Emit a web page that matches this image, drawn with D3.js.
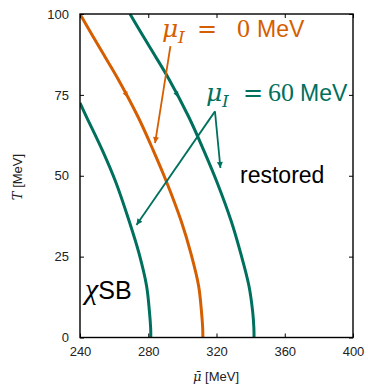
<!DOCTYPE html>
<html>
<head>
<meta charset="utf-8">
<script src="https://cdn.jsdelivr.net/npm/d3@7"></script>
<style>
    body { margin: 0; background: #fff; }
    .axis text { font-family: "Liberation Sans", Arial, sans-serif; font-size: 13px; fill: #222; }
    .axis path { display: none; }
    .axis line { stroke: #000; stroke-width: 1; }
    .serif { font-family: "DejaVu Serif", serif; }
    .times { font-family: "Liberation Serif", serif; }
    .sans { font-family: "Liberation Sans", Arial, sans-serif; }
</style>
</head>
<body>
<div id="chart"></div>
<script>
// ---- data ----
const xTicks = [240, 280, 320, 360, 400];
const yTicks = [0, 25, 50, 75, 100];

// [mu_bar, T] along each transition line, from T = 0 upward
const orange0 = [[312, 0], [311.9, 3], [311.2, 8], [309.5, 16], [305, 26], [299.3, 36], [290.8, 48],
    [282.8, 58], [274.2, 68], [262.2, 80], [251, 90], [240, 100]];
const tealLeft = [[281.5, 0], [281.4, 3], [280.7, 8], [279, 16], [274.6, 26], [268.8, 36], [261, 48],
    [253, 58], [244, 68], [240, 72.5]];
const tealRight = [[342, 0], [341.9, 3], [341.2, 8], [339, 16], [334.2, 26], [328.6, 36], [320.3, 48],
    [312.4, 58], [303.9, 68], [292, 80], [280.6, 90], [269.3, 100]];

// small direction marks on the lines (T value)
const markT = 75;

// annotation arrows [from, to] in data units
const orangeArrows = [[[293, 90.1], [284, 60.1]]];
const tealArrows = [[[319.1, 69.9], [322.3, 52.4]], [[319.1, 69.9], [273.1, 34.8]]];

const orange = "#d55e00";
const teal = "#00705e";

const width = 368, height = 385;
const margin = { top: 14, right: 15, bottom: 47.5, left: 80 };

const svg = d3.select("#chart").append("svg")
    .attr("width", width)
    .attr("height", height);

const x = d3.scaleLinear().domain([240, 400]).range([margin.left, width - margin.right]);
const y = d3.scaleLinear().domain([0, 100]).range([height - margin.bottom, margin.top]);

const defs = svg.append("defs");
[["arr-o", orange], ["arr-t", teal]].forEach(([id, c]) => {
    defs.append("marker")
        .attr("id", id)
        .attr("viewBox", "0 0 10 10")
        .attr("refX", 10).attr("refY", 5)
        .attr("markerWidth", 8).attr("markerHeight", 6)
        .attr("markerUnits", "userSpaceOnUse")
        .attr("orient", "auto")
        .append("path")
        .attr("d", "M0,0 L10,5 L0,10 Z")
        .attr("fill", c);
});

defs.append("clipPath").attr("id", "clip")
    .append("rect")
    .attr("x", x(240)).attr("y", y(100))
    .attr("width", x(400) - x(240)).attr("height", y(0) - y(100));

const line = d3.line()
    .x(d => x(d[0]))
    .y(d => y(d[1]))
    .curve(d3.curveCatmullRom.alpha(0.5));

const curves = [[orange0, orange, true], [tealLeft, teal, false], [tealRight, teal, true]];

const plot = svg.append("g").attr("clip-path", "url(#clip)");

plot.selectAll("path.curve")
    .data(curves)
    .enter()
    .append("path")
    .attr("class", "curve")
    .attr("d", d => line(d[0]))
    .attr("fill", "none")
    .attr("stroke", d => d[1])
    .attr("stroke-width", 3);

// little direction arrowheads sitting on the lines
curves.filter(d => d[2]).forEach(([pts, c]) => {
    const i = pts.findIndex(p => p[1] > markT);
    const a = pts[i - 1], b = pts[i];
    const t = (markT - a[1]) / (b[1] - a[1]);
    const mu = a[0] + t * (b[0] - a[0]);
    const ang = Math.atan2(y(a[1]) - y(b[1]), x(a[0]) - x(b[0])) * 180 / Math.PI;
    plot.append("path")
        .attr("d", "M3,0 L-3,-2.6 L-3,2.6 Z")
        .attr("fill", c)
        .attr("transform", "translate(" + x(mu) + "," + y(markT) + ") rotate(" + ang + ")");
});

// annotation arrows
function drawArrows(list, color, id) {
    svg.append("g").selectAll("line")
        .data(list)
        .enter()
        .append("line")
        .attr("x1", d => x(d[0][0])).attr("y1", d => y(d[0][1]))
        .attr("x2", d => x(d[1][0])).attr("y2", d => y(d[1][1]))
        .attr("stroke", color)
        .attr("stroke-width", 1.8)
        .attr("marker-end", "url(#" + id + ")");
}
drawArrows(orangeArrows, orange, "arr-o");
drawArrows(tealArrows, teal, "arr-t");

// axes, ticks inward on all four sides
svg.append("g").attr("class", "axis")
    .attr("transform", "translate(0," + y(0) + ")")
    .call(d3.axisBottom(x).tickValues(xTicks).tickSize(-4).tickPadding(9));
svg.append("g").attr("class", "axis")
    .attr("transform", "translate(0," + y(100) + ")")
    .call(d3.axisTop(x).tickValues(xTicks).tickSize(-4).tickFormat(""));
svg.append("g").attr("class", "axis")
    .attr("transform", "translate(" + x(240) + ",0)")
    .call(d3.axisLeft(y).tickValues(yTicks).tickSize(-4).tickPadding(11));
svg.append("g").attr("class", "axis")
    .attr("transform", "translate(" + x(400) + ",0)")
    .call(d3.axisRight(y).tickValues(yTicks).tickSize(-4).tickFormat(""));

svg.append("rect")
    .attr("x", x(240)).attr("y", y(100))
    .attr("width", x(400) - x(240)).attr("height", y(0) - y(100))
    .attr("fill", "none")
    .attr("stroke", "#000")
    .attr("stroke-width", 1.4);

// axis titles
const xt = svg.append("text")
    .attr("x", 216).attr("y", 381)
    .attr("text-anchor", "middle")
    .attr("fill", "#222")
    .style("font-size", "13px");
xt.append("tspan").attr("class", "serif").style("font-style", "italic").text("\u03BC\u0304");
xt.append("tspan").attr("class", "sans").text(" [MeV]");

const yt = svg.append("text")
    .attr("transform", "translate(22,177) rotate(-90)")
    .attr("text-anchor", "middle")
    .attr("fill", "#222")
    .style("font-size", "13px");
yt.append("tspan").attr("class", "serif").style("font-style", "italic").text("T");
yt.append("tspan").attr("class", "sans").text(" [MeV]");

// in-plot labels
function muLabel(color, xs, base, num) {
    const g = svg.append("g").attr("fill", color);
    g.append("text").attr("class", "serif").attr("x", xs[0]).attr("y", base)
        .style("font-style", "italic").style("font-size", "25px").text("\u03BC");
    g.append("text").attr("class", "serif").attr("x", xs[1]).attr("y", base + 6)
        .style("font-style", "italic").style("font-size", "17px").text("I");
    g.append("text").attr("class", "serif").attr("x", xs[2]).attr("y", base)
        .style("font-size", "24px").text("=");
    g.append("text").attr("class", "times").attr("x", xs[3]).attr("y", base)
        .style("font-size", "26px").text(num);
    g.append("text").attr("class", "sans").attr("x", xs[4]).attr("y", base)
        .style("font-size", "23px").text("MeV");
}
muLabel(orange, [162, 178, 197, 237, 257], 37, "0");
muLabel(teal, [206, 222, 243, 268, 300], 101, "60");

svg.append("text").attr("class", "sans")
    .attr("x", 240).attr("y", 183)
    .style("font-size", "23px")
    .attr("fill", "#000")
    .text("restored");

const sb = svg.append("text").attr("x", 85).attr("y", 299).attr("fill", "#000");
sb.append("tspan").attr("class", "times").style("font-style", "italic").style("font-size", "30px").text("\u03C7");
sb.append("tspan").attr("class", "sans").style("font-size", "25px").text("SB");
</script>
</body>
</html>
